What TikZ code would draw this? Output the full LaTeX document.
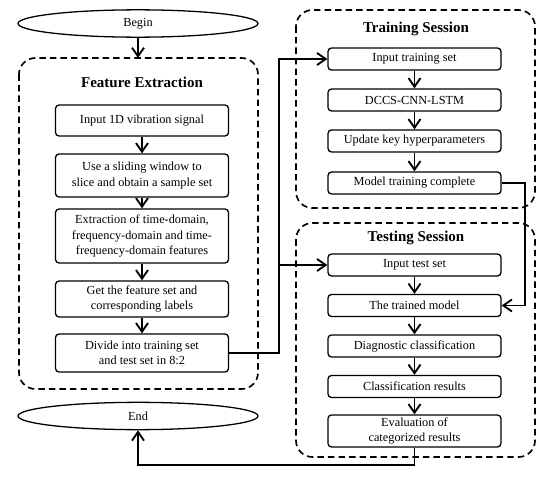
\documentclass[tikz,border=0pt]{standalone}
\usepackage{fontspec}
\setmainfont{Liberation Serif}
\usetikzlibrary{arrows.meta,shapes,calc}

\begin{document}
\begin{tikzpicture}[x=0.03cm,y=-0.03cm,
	box/.style={draw,line width=1.1pt,rounded corners=3pt,align=center,inner sep=1pt,
		minimum width=5.19cm,font=\fontsize{10.5}{13}\selectfont},
	oval/.style={draw,ellipse,line width=1.1pt,minimum width=7.2cm,minimum height=0.82cm,
		font=\fontsize{10.5}{13}\selectfont},
	group/.style={draw,dashed,line width=1.4pt,dash pattern=on 5.5pt off 3.5pt,rounded corners=14pt},
	title/.style={font=\bfseries\fontsize{12.8}{15}\selectfont},
	>={Straight Barb[length=2.6mm,width=3.6mm,line width=1.6pt]},
	every path/.style={line width=1.1pt}]
\useasboundingbox (0,0) rectangle (550,477);
%groups
\draw[group] (19,58) rectangle (258,389);
\draw[group] (296,10) rectangle (535,208);
\draw[group] (296,223) rectangle (535,457);
\path (142,82) node[title] (fetitle) {Feature Extraction}
	(416,29) node[title] (trtitle) {Training Session}
	(416,238) node[title] (tetitle) {Testing Session};
%begin and end
\path (138,23.5) node[oval] (begin) {Begin};
\path (138,416) node[oval] (end) {End};
\coordinate (fetop) at (138,58);
\draw[->] (begin.south) -- (fetop);
%feature extraction
\path (142,120.5) node[box,minimum height=0.93cm] (signal) {Input 1D vibration signal};
\path (142,175.5) node[box,minimum height=1.29cm] (window) {Use a sliding window to\\ slice and obtain a sample set};
\path (142,236) node[box,minimum height=1.62cm] (features) {Extraction of time-domain,\\ frequency-domain and time-\\ frequency-domain features};
\path (142,299) node[box,minimum height=1.08cm] (labels) {Get the feature set and\\ corresponding labels};
\path (142,353) node[box,minimum height=1.14cm] (divide) {Divide into training set\\ and test set in 8:2};
\draw[->] (signal.south) -- (window.north);
\draw[->] (window.south) -- (features.north);
\draw[->] (features.south) -- (labels.north);
\draw[->] (labels.south) -- (divide.north);
%training
\path (414.5,59) node[box,minimum height=0.66cm] (trainset) {Input training set};
\path (414.5,100) node[box,minimum height=0.66cm] (model) {DCCS-CNN-LSTM};
\path (414.5,141) node[box,minimum height=0.66cm] (update) {Update key hyperparameters};
\path (414.5,183) node[box,minimum height=0.66cm] (complete) {Model training complete};
\draw[->] (trainset.south) -- (model.north);
\draw[->] (model.south) -- (update.north);
\draw[->] (update.south) -- (complete.north);
%testing
\path (414.5,265) node[box,minimum height=0.66cm] (testset) {Input test set};
\path (414.5,305.5) node[box,minimum height=0.66cm] (trained) {The trained model};
\path (414.5,346) node[box,minimum height=0.66cm] (diagnose) {Diagnostic classification};
\path (414.5,386.5) node[box,minimum height=0.66cm] (results) {Classification results};
\path (414.5,431) node[box,minimum height=0.96cm] (evaluate) {Evaluation of\\ categorized results};
\draw[->] (testset.south) -- (trained.north);
\draw[->] (trained.south) -- (diagnose.north);
\draw[->] (diagnose.south) -- (results.north);
\draw[->] (results.south) -- (evaluate.north);
%links
\coordinate (split) at (279,353);
\coordinate (bend) at (525,183);
\coordinate (low) at (138,465);
\draw[->] (divide.east) -- (split) |- (trainset.west);
\draw[->] (split |- testset.west) -- (testset.west);
\draw[->] (complete.east) -- (bend) |- (trained.east);
\draw[->] (evaluate.south) -- (evaluate.south |- low) -- (low) -- (end.south);
\end{tikzpicture}
\end{document}
